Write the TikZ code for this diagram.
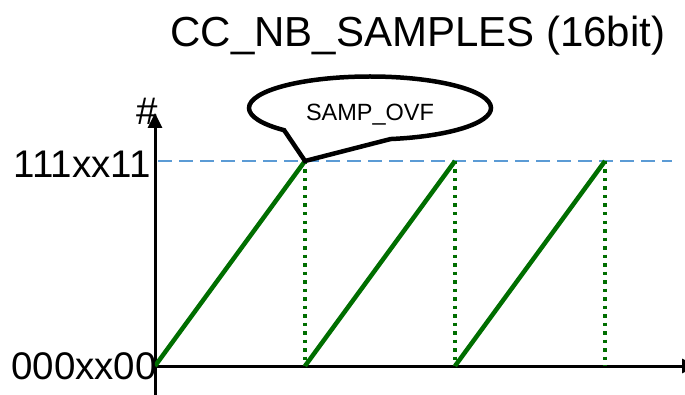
\documentclass[tikz,border=0pt]{standalone}
\usepackage{fontspec}
\setmainfont{Liberation Sans}
\usetikzlibrary{arrows.meta,shapes.callouts}
\definecolor{rampgreen}{RGB}{0,110,0}
\definecolor{levelblue}{RGB}{91,155,213}

\begin{document}
\begin{tikzpicture}[x=1pt, y=1pt, >={Triangle[length=15pt,width=14pt]},
  axis/.style={line width=3pt},
  ramp/.style={rampgreen, line width=4.5pt},
  drop/.style={rampgreen, line width=4pt, dash pattern=on 3.5pt off 5pt},
  level/.style={levelblue, line width=2.5pt, dash pattern=on 14pt off 7pt},
  big/.style={font=\fontsize{38.5}{42}\selectfont}]

% Frame
\useasboundingbox (0,0) rectangle (685,394);

% Axis ends
\coordinate (O) at (155,28);
\coordinate (ybot) at (155,-5);
\coordinate (ytop) at (155,281);
\coordinate (xend) at (697,28);

% Counter wraps
\coordinate (T1) at (305,233);
\coordinate (B1) at (305,28);
\coordinate (T2) at (455,233);
\coordinate (B2) at (455,28);
\coordinate (T3) at (605,233);
\coordinate (B3) at (605,28);

% Max level
\coordinate (L1) at (158,233);
\coordinate (L2) at (672,233);
\draw[level] (L1) -- (L2);

% Axes
\draw[axis,->] (ybot) -- (ytop);
\draw[axis,->] (O) -- (xend);

% Saw tooth
\draw[ramp] (O) -- (T1);
\draw[drop] (T1) -- (B1);
\draw[ramp] (B1) -- (T2);
\draw[drop] (T2) -- (B2);
\draw[ramp] (B2) -- (T3);
\draw[drop] (T3) -- (B3);

% Labels
\node[big, anchor=east, inner sep=0pt] (vmax) at (151,230) {111xx11};
\node[big, anchor=east, inner sep=0pt] (vmin) at (157,28) {000xx00};
\node[big, inner sep=0pt] (cnt) at (147,283) {\#};
\node[font=\fontsize{42}{48}\selectfont, anchor=base, inner sep=0pt] (title) at (418,347) {CC\_NB\_SAMPLES (16bit)};

% Overflow
\node[ellipse callout, draw, line width=4.5pt, minimum width=242pt, minimum height=63pt,
  inner sep=0pt, text height=25pt, text depth=0pt,
  callout absolute pointer={(T1)}, callout pointer arc=55,
  font=\fontsize{23.5}{28}\selectfont] (ovf) at (370,286) {SAMP\_OVF};

\end{tikzpicture}
\end{document}
